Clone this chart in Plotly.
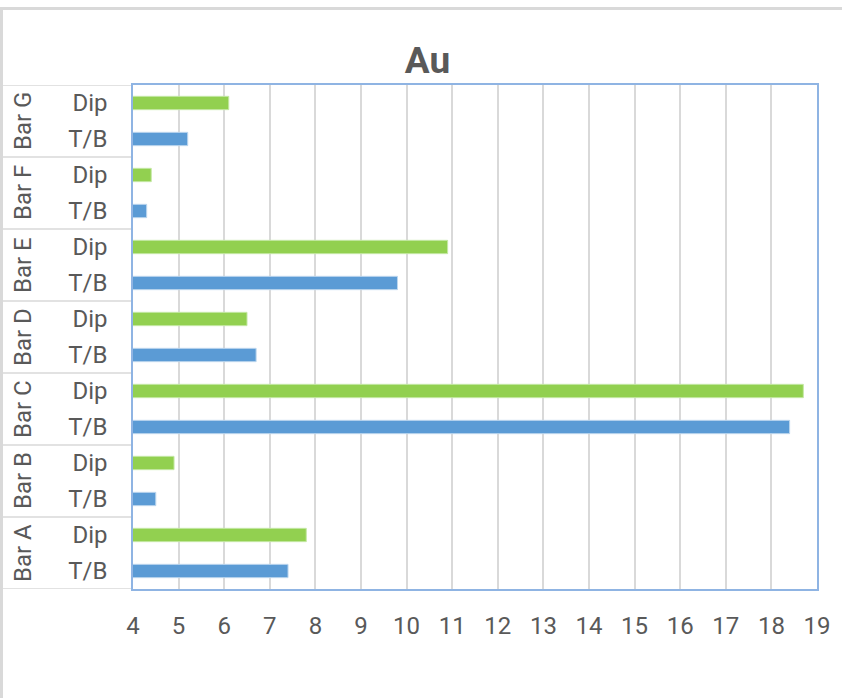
import plotly.graph_objects as go

# ---- data ----
groups = ["Bar A", "Bar B", "Bar C", "Bar D", "Bar E", "Bar F", "Bar G"]
sub_labels = ["T/B", "Dip"]
tb_values = [7.4, 4.5, 18.4, 6.7, 9.8, 4.3, 5.2]
dip_values = [7.8, 4.9, 18.7, 6.5, 10.9, 4.4, 6.1]
x_ticks = list(range(4, 20))
title_text = "Au"

# ---- layout constants ----
W, H = 842, 698
L, R, T, B = 133, 817, 85, 589
TXT = "#595959"
GRID = "#D9D9D9"
BORDER = "#8FB4E3"
FONT = "Roboto"

def px_x(px):
    return (px - L) / (R - L)

def px_y(py):
    return (B - py) / (B - T)

n = len(groups)
tb_pos = [2 * i for i in range(n)]
dip_pos = [2 * i + 1 for i in range(n)]
tick_pos = []
tick_txt = []
for i in range(n):
    tick_pos += [2 * i, 2 * i + 1]
    tick_txt += sub_labels

fig = go.Figure()
fig.add_trace(go.Bar(
    y=tb_pos, x=tb_values, orientation="h", width=0.37, name="T/B",
    marker=dict(color="#5B9BD5", line=dict(color="#BDD7EE", width=1)),
))
fig.add_trace(go.Bar(
    y=dip_pos, x=dip_values, orientation="h", width=0.37, name="Dip",
    marker=dict(color="#92D050", line=dict(color="#C5E8A5", width=1)),
))

shapes = []
# group separators in the category label area
for k in range(n + 1):
    yb = 2 * k - 0.5
    shapes.append(dict(type="line", xref="paper", yref="y",
                       x0=px_x(3), x1=0, y0=yb, y1=yb,
                       line=dict(color=GRID, width=1.5), layer="below"))
# chart-area border (top and left)
shapes.append(dict(type="line", xref="paper", yref="paper",
                   x0=px_x(0), x1=px_x(W), y0=px_y(8.5), y1=px_y(8.5),
                   line=dict(color=GRID, width=3)))
shapes.append(dict(type="line", xref="paper", yref="paper",
                   x0=px_x(1.5), x1=px_x(1.5), y0=px_y(8.5), y1=px_y(H),
                   line=dict(color=GRID, width=3)))

annotations = []
for i, g in enumerate(groups):
    annotations.append(dict(
        text=g, xref="paper", yref="y", x=px_x(23), y=2 * i + 0.5,
        textangle=-90, showarrow=False, xanchor="center", yanchor="middle",
        font=dict(family=FONT, size=24, color=TXT),
    ))

fig.update_layout(
    width=W, height=H,
    margin=dict(l=L, r=W - R, t=T, b=H - B, pad=0),
    paper_bgcolor="white", plot_bgcolor="white",
    showlegend=False, barmode="overlay",
    font=dict(family=FONT, color=TXT),
    title=dict(text="<b>" + title_text + "</b>", x=427.5 / W, xanchor="center",
               y=1 - 60 / H, yanchor="middle", xref="container", yref="container",
               font=dict(family=FONT, size=37, color=TXT)),
    shapes=shapes, annotations=annotations,
)
fig.update_xaxes(
    range=[4, 19], tickvals=x_ticks, ticktext=[str(v) for v in x_ticks],
    showgrid=True, gridcolor=GRID, gridwidth=1.5,
    showline=True, linecolor=BORDER, linewidth=1.5, mirror=True,
    zeroline=False, ticks="", ticklabelstandoff=14,
    tickfont=dict(family=FONT, size=24, color=TXT),
)
fig.update_yaxes(
    range=[-0.5, 13.5], tickvals=tick_pos, ticktext=tick_txt,
    showgrid=False, zeroline=False,
    showline=True, linecolor=BORDER, linewidth=1.5, mirror=True,
    ticks="", ticklabelstandoff=19,
    tickfont=dict(family=FONT, size=24, color=TXT),
)

fig.write_html("out.html")
